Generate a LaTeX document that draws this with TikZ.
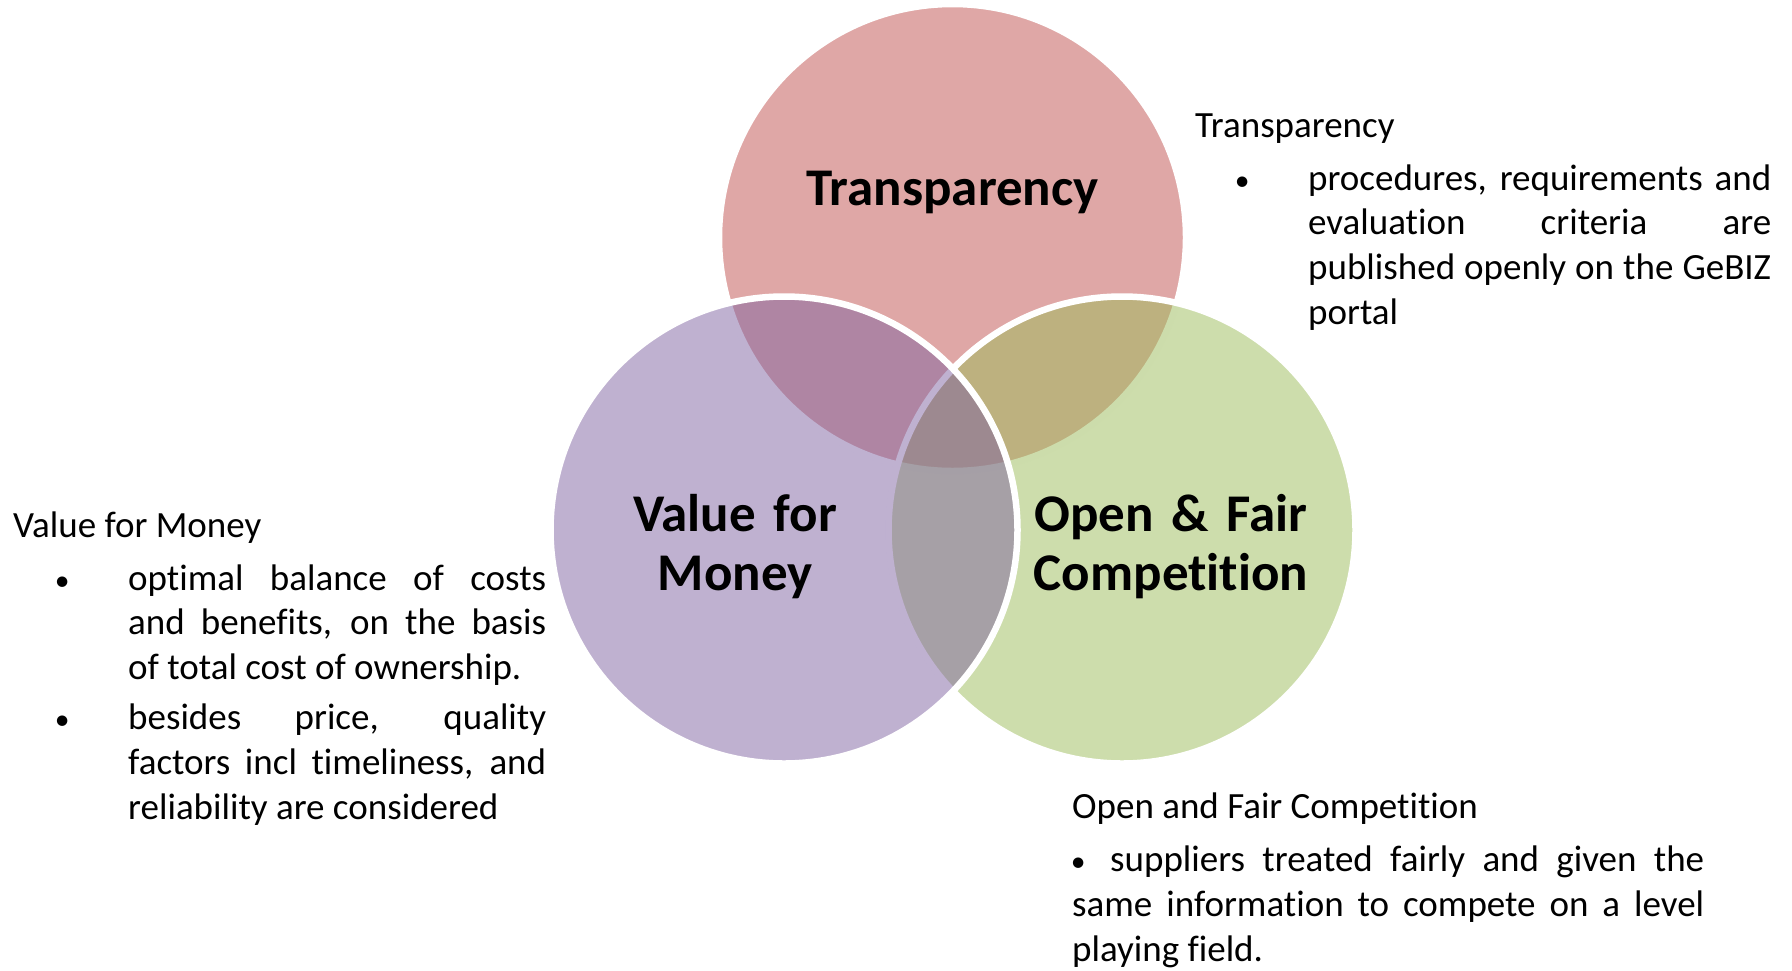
\documentclass[tikz,border=0pt]{standalone}
\usepackage{fontspec}
\setmainfont{Carlito}[Ligatures={NoCommon,NoRare,NoContextual}]
\definecolor{tred}{HTML}{C0504D}
\definecolor{tpurple}{HTML}{8064A2}
\definecolor{tgreen}{HTML}{9BBB59}
\newcommand\mydot{\scalebox{0.8}{\textbullet}}
\newcommand\mybullet{\noindent\llap{\makebox[132pt][c]{\mydot}}}
\tikzset{
  venn/.style={circle, minimum size=467pt, inner sep=0pt, draw=white, line width=6.5pt, fill opacity=0.5},
  vlabel/.style={font=\bfseries\fontsize{53}{59}\selectfont, text width=360pt, align=center, anchor=base, inner sep=0pt},
  desc/.style={font=\fontsize{37}{44.8}\selectfont, anchor=base west, inner sep=0pt, align=justify},
}
\begin{document}
\begin{tikzpicture}[x=1pt,y=-1pt]
\useasboundingbox (0,0) rectangle (1792,970);
% circles: drawn in order Transparency, Open & Fair, Value for Money
\node[venn, fill=tred] (T) at (952.5,237.5) {};
\node[venn, fill=tgreen] (O) at (1122,530) {};
\node[venn, fill=tpurple] (V) at (784,530) {};
% circle labels
\node[vlabel] (tl) at (952.5,205) {Transparency};
\node[vlabel] (vl) at (735,531) {Value for\\Money};
\node[vlabel] (ol) at (1171,531) {Open \& Fair\\Competition};
% descriptions
\node[desc, text width=576pt] (td) at (1195,137) {\tolerance=10000\hbadness=10000
Transparency\par\vspace{8.2pt}
{\leftskip=113pt \mybullet procedures, requirements and\linebreak evaluation criteria are\linebreak published openly on the GeBIZ\linebreak portal\par}};
\node[desc, text width=533pt] (vd) at (13,537) {\tolerance=10000\hbadness=10000
Value for Money\par\vspace{8.2pt}
{\leftskip=115pt \mybullet optimal balance of costs\linebreak and benefits, on the basis\linebreak of total cost of ownership.\par}
\vspace{5.2pt}
{\leftskip=115pt \mybullet besides price, quality\linebreak factors incl timeliness, and\linebreak reliability are considered\par}};
\node[desc, text width=632pt] (od) at (1072,818) {\tolerance=10000\hbadness=10000
Open and Fair Competition\par\vspace{8.6pt}
\noindent\hspace*{6pt}\makebox[0pt][c]{\mydot}\hspace*{32pt}suppliers treated fairly and given the\linebreak same information to compete on a level\linebreak playing field.\par};
\end{tikzpicture}
\end{document}
